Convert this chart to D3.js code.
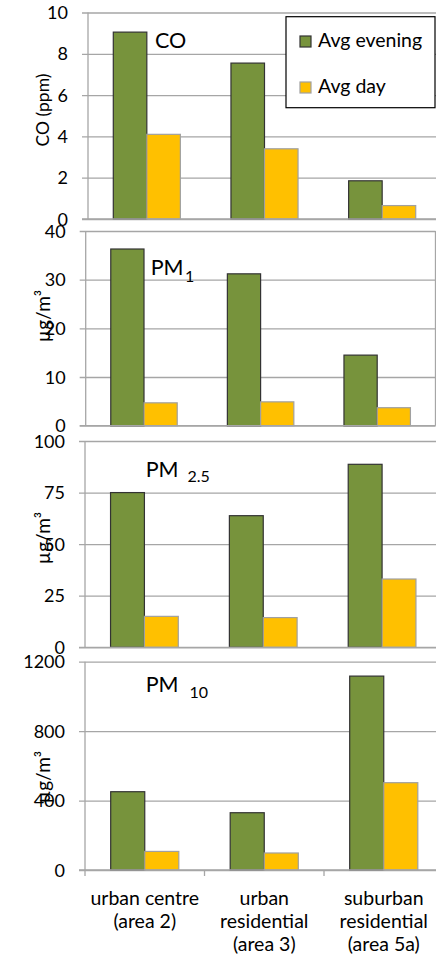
<!DOCTYPE html>
<html>
<head>
<meta charset="utf-8">
<script src="https://cdn.jsdelivr.net/npm/d3@7"></script>
<style>
  body { margin: 0; background: #fff; }
  svg { display: block; font-family: Lato, "Open Sans", sans-serif; }
</style>
</head>
<body>
<svg id="chart" width="436" height="958"></svg>
<script>
// Data
var categories = ["area 2", "area 3", "area 5a"];
var categoryLines = [
  ["urban centre", "(area 2)"],
  ["urban", "residential", "(area 3)"],
  ["suburban", "residential", "(area 5a)"]
];
var seriesNames = ["Avg evening", "Avg day"];

var coEvening = [9.05, 7.55, 1.85];
var coDay = [4.1, 3.4, 0.65];
var pm1Evening = [36.3, 31.2, 14.5];
var pm1Day = [4.7, 4.9, 3.7];
var pm25Evening = [75, 63.8, 88.7];
var pm25Day = [15, 14.4, 33.1];
var pm10Evening = [451, 330, 1117];
var pm10Day = [107, 98, 503];

var coTicks = [0, 2, 4, 6, 8, 10];
var pm1Ticks = [0, 10, 20, 30, 40];
var pm25Ticks = [0, 25, 50, 75, 100];
var pm10Ticks = [0, 400, 800, 1200];

window.onload = function() {
  var svg = d3.select("#chart"),
      colors = ["#77933C", "#FFC000"],
      strokes = ["#333333", "#a0a0a0"],
      gridColor = "#a6a6a6";

  // panel layout
  var panels = [
    {name: "CO", sub: "", evening: coEvening, day: coDay, ticks: coTicks,
     top: 12.5, bottom: 219, left: 88, right: 441, label: "CO (ppm)", labelY: 110, labelSize: 17.5,
     title: {x: 155, y: 48, dx: 0, dy: 0}},
    {name: "PM", sub: "1", evening: pm1Evening, day: pm1Day, ticks: pm1Ticks,
     top: 231, bottom: 425.7, left: 85.7, right: 435.5, label: "µg/m³", labelY: 316, labelSize: 19,
     title: {x: 150.7, y: 275, dx: 1.5, dy: 6.5}},
    {name: "PM", sub: "2.5", evening: pm25Evening, day: pm25Day, ticks: pm25Ticks,
     top: 441, bottom: 647.3, left: 85, right: 441.5, label: "µg/m³", labelY: 538, labelSize: 19,
     title: {x: 145.7, y: 476.7, dx: 9, dy: 5.5}},
    {name: "PM", sub: "10", evening: pm10Evening, day: pm10Day, ticks: pm10Ticks,
     top: 661.7, bottom: 870, left: 85, right: 443.5, label: "µg/m³", labelY: 777, labelSize: 19,
     title: {x: 145.7, y: 691.7, dx: 11, dy: 6.5}}
  ];

  panels.forEach(function(p, i) {
    var g = svg.append("g");

    var x0 = d3.scaleBand()
      .domain(categories)
      .range([p.left, p.right])
      .paddingInner(0.43)
      .paddingOuter(0.215);

    var x1 = d3.scaleBand()
      .domain(seriesNames)
      .range([0, x0.bandwidth()]);

    var y = d3.scaleLinear()
      .domain([0, d3.max(p.ticks)])
      .range([p.bottom, p.top]);

    // gridlines with small outside ticks
    var yAxis = d3.axisLeft(y)
      .tickValues(p.ticks)
      .tickSize(-(p.right - p.left))
      .tickSizeOuter(0)
      .tickFormat(d3.format("d"));

    var ga = g.append("g")
      .attr("transform", "translate(" + p.left + ",0)")
      .call(yAxis);
    ga.select(".domain").remove();
    ga.selectAll(".tick line")
      .attr("x1", -6)
      .attr("stroke", gridColor)
      .attr("stroke-width", 1.3);
    ga.selectAll(".tick text")
      .attr("x", -20)
      .attr("dy", "0.34em")
      .attr("fill", "#000")
      .style("font-size", "18px")
      .style("font-family", "Lato, sans-serif");

    // bars
    var rows = categories.map(function(c, j) {
      return [p.evening[j], p.day[j]];
    });
    var grp = g.selectAll(".grp")
      .data(rows)
      .enter().append("g")
      .attr("transform", function(d, j) { return "translate(" + x0(categories[j]) + ",0)"; });
    grp.selectAll("rect")
      .data(function(d) { return d; })
      .enter().append("rect")
      .attr("x", function(d, k) { return x1(seriesNames[k]); })
      .attr("y", function(d) { return y(d); })
      .attr("width", x1.bandwidth())
      .attr("height", function(d) { return y(0) - y(d); })
      .attr("fill", function(d, k) { return colors[k]; })
      .attr("stroke", function(d, k) { return strokes[k]; })
      .attr("stroke-width", 1.2);

    // left axis line, zero line and right border
    g.append("line")
      .attr("x1", p.left).attr("x2", p.left)
      .attr("y1", p.top).attr("y2", p.bottom)
      .attr("stroke", gridColor).attr("stroke-width", 1.3);
    g.append("line")
      .attr("x1", p.left - 6).attr("x2", p.right)
      .attr("y1", p.bottom).attr("y2", p.bottom)
      .attr("stroke", gridColor).attr("stroke-width", 1.3);
    g.append("line")
      .attr("x1", p.right).attr("x2", p.right)
      .attr("y1", p.top).attr("y2", p.bottom)
      .attr("stroke", gridColor).attr("stroke-width", 1.3);

    // y label
    g.append("text")
      .attr("transform", "translate(43," + p.labelY + ") rotate(-90)")
      .attr("text-anchor", "middle")
      .attr("dy", "0.35em")
      .style("font-size", p.labelSize + "px")
      .text(p.label);

    // panel title
    var t = g.append("text")
      .attr("x", p.title.x)
      .attr("y", p.title.y)
      .style("font-size", "21.5px")
      .text(p.name);
    if (p.sub) {
      t.append("tspan")
        .attr("dx", p.title.dx)
        .attr("dy", p.title.dy)
        .style("font-size", "16px")
        .text(p.sub);
    }

    // category axis on the last panel only
    if (i === panels.length - 1) {
      var bounds = x0.domain().map(function(c) { return x0(c) - x0.step() * x0.paddingOuter(); });
      g.selectAll(".xtick")
        .data(bounds)
        .enter().append("line")
        .attr("x1", function(d) { return d; })
        .attr("x2", function(d) { return d; })
        .attr("y1", p.bottom)
        .attr("y2", p.bottom + 6)
        .attr("stroke", gridColor).attr("stroke-width", 1.3);

      var lab = g.selectAll(".xlab")
        .data(categoryLines)
        .enter().append("text")
        .attr("text-anchor", "middle")
        .attr("x", function(d, j) { return x0(categories[j]) + x0.bandwidth() / 2; })
        .attr("y", 905)
        .style("font-size", "19.5px");
      lab.selectAll("tspan")
        .data(function(d) { return d; })
        .enter().append("tspan")
        .attr("x", function() { return d3.select(this.parentNode).attr("x"); })
        .attr("dy", function(d, k) { return k === 0 ? 0 : 23; })
        .text(function(d) { return d; });
    }
  });

  // legend
  var leg = svg.append("g");
  leg.append("rect")
    .attr("x", 286).attr("y", 16.7)
    .attr("width", 149).attr("height", 91)
    .attr("fill", "#fff").attr("stroke", "#000").attr("stroke-width", 1.2);
  var items = leg.selectAll(".item")
    .data(seriesNames)
    .enter().append("g")
    .attr("transform", function(d, k) { return "translate(300," + (36 + k * 46) + ")"; });
  items.append("rect")
    .attr("width", 11).attr("height", 11)
    .attr("fill", function(d, k) { return colors[k]; })
    .attr("stroke", function(d, k) { return strokes[k]; })
    .attr("stroke-width", 1.2);
  items.append("text")
    .attr("x", 18).attr("y", 11)
    .style("font-size", "19.5px")
    .text(function(d) { return d; });
};
</script>
</body>
</html>
